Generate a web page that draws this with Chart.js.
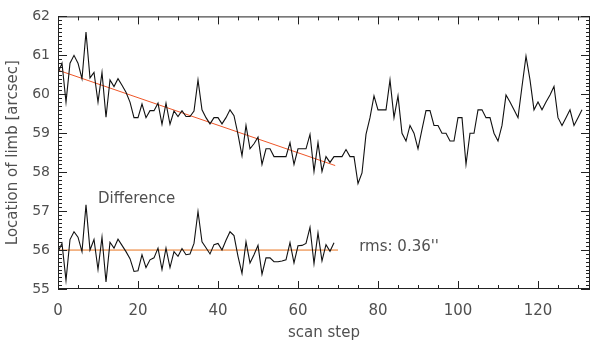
<!DOCTYPE html>
<html>
<head>
<meta charset="utf-8">
<script src="https://cdn.jsdelivr.net/npm/chart.js@4"></script>
<style>
  html, body { margin: 0; padding: 0; background: #fff; }
  #wrap { width: 600px; height: 342px; }
</style>
</head>
<body>
<div id="wrap"><canvas id="limbChart" width="600" height="342"></canvas></div>
<script>
// limb position per scan step (arcsec)
const limbPos = [
  60.55, 60.8, 59.8, 60.8, 61.0, 60.8, 60.4, 61.6, 60.42, 60.56,
  59.8, 60.56, 59.41, 60.37, 60.2, 60.4, 60.23, 60.05, 59.8, 59.4,
  59.4, 59.75, 59.4, 59.58, 59.58, 59.77, 59.23, 59.77, 59.23, 59.57,
  59.43, 59.58, 59.43, 59.43, 59.57, 60.37, 59.6, 59.4, 59.24, 59.4,
  59.4, 59.24, 59.4, 59.6, 59.45, 58.97, 58.42, 59.2, 58.6, 58.73,
  58.9, 58.2, 58.6, 58.6, 58.4, 58.4, 58.4, 58.4, 58.76, 58.2,
  58.6, 58.6, 58.6, 58.97, 58.02, 58.76, 58.02, 58.4, 58.25, 58.4,
  58.4, 58.4, 58.58, 58.4, 58.4, 57.71, 57.98, 58.97, 59.4, 59.96,
  59.6, 59.6, 59.6, 60.37, 59.4, 59.96, 59.0, 58.8, 59.2, 59.0,
  58.6, 59.1, 59.58, 59.58, 59.2, 59.2, 59.0, 59.0, 58.8, 58.8,
  59.4, 59.4, 58.2, 59.0, 59.0, 59.6, 59.6, 59.4, 59.4, 59.0,
  58.8, 59.2, 59.98, 59.8, 59.6, 59.4, 60.2, 60.98, 60.37, 59.6,
  59.8, 59.6, 59.8, 59.98, 60.2, 59.4, 59.2, 59.4, 59.6, 59.2,
  59.4, 59.6
];

// residuals after removing the linear fit, shifted to 56
const diffPos = [
  55.96, 56.17, 55.22, 56.27, 56.47, 56.33, 55.96, 57.16, 56.0, 56.27,
  55.5, 56.33, 55.18, 56.2, 56.05, 56.28, 56.12, 55.96, 55.78, 55.45,
  55.47, 55.88, 55.55, 55.75, 55.8, 56.05, 55.5, 56.05, 55.55, 55.96,
  55.84, 56.04, 55.88, 55.9, 56.17, 56.99, 56.21, 56.06, 55.9, 56.14,
  56.17, 56.0, 56.25, 56.47, 56.37, 55.84, 55.4, 56.21, 55.67, 55.88,
  56.12, 55.38, 55.8, 55.8, 55.7, 55.7, 55.72, 55.75, 56.19, 55.67,
  56.11, 56.12, 56.17, 56.58, 55.65, 56.44, 55.72, 56.14, 55.97, 56.19
];

// linear fit endpoints
const fitX = [0, 69.3];
const fitY = [60.62, 58.17];

// zero level of the difference curve
const refX = [0, 70];
const refY = [56.0, 56.0];

const xTicks = [0, 20, 40, 60, 80, 100, 120];
const yTicks = [55, 56, 57, 58, 59, 60, 61, 62];

const diffLabel = 'Difference';
const rmsLabel = "rms: 0.36''";

const pts = (xs, ys) => ys.map((v, i) => ({ x: xs[i], y: v }));
const steps = limbPos.map((v, i) => i);

const fontFamily = '"DejaVu Sans", sans-serif';
const textColor = '#505050';

// IDL style frame with inward ticks plus the two labels
const framePlugin = {
  id: 'frame',
  afterDraw(chart) {
    const { ctx, chartArea: a, scales: { x, y } } = chart;
    ctx.save();
    ctx.strokeStyle = '#222';
    ctx.lineWidth = 1;
    ctx.strokeRect(a.left + 0.5, a.top + 0.5, a.right - a.left - 1, a.bottom - a.top - 1);
    ctx.beginPath();
    for (let v = 0; v <= x.max; v += 5) {
      const px = Math.round(x.getPixelForValue(v)) + 0.5;
      const len = v % 20 === 0 ? 8 : 4;
      ctx.moveTo(px, a.bottom); ctx.lineTo(px, a.bottom - len);
      ctx.moveTo(px, a.top); ctx.lineTo(px, a.top + len);
    }
    for (let k = 0; k <= 70; k++) {
      const v = y.min + k / 10;
      const py = Math.round(y.getPixelForValue(v)) + 0.5;
      const len = k % 10 === 0 ? 9 : 4;
      ctx.moveTo(a.left, py); ctx.lineTo(a.left + len, py);
      ctx.moveTo(a.right, py); ctx.lineTo(a.right - len, py);
    }
    ctx.stroke();

    ctx.fillStyle = textColor;
    ctx.font = '15px ' + fontFamily;
    ctx.textBaseline = 'middle';
    ctx.textAlign = 'left';
    ctx.fillText(diffLabel, x.getPixelForValue(10), y.getPixelForValue(57.3));
    ctx.fillText(rmsLabel, x.getPixelForValue(75.3), y.getPixelForValue(56.08));
    ctx.restore();
  }
};

new Chart(document.getElementById('limbChart').getContext('2d'), {
  type: 'line',
  data: {
    datasets: [
      {
        data: pts(steps, limbPos),
        borderColor: '#111',
        borderWidth: 1.1,
        pointRadius: 0,
        tension: 0
      },
      {
        data: pts(steps, diffPos),
        borderColor: '#111',
        borderWidth: 1.1,
        pointRadius: 0,
        tension: 0
      },
      {
        data: pts(fitX, fitY),
        borderColor: '#ee5628',
        borderWidth: 1,
        pointRadius: 0
      },
      {
        data: pts(refX, refY),
        borderColor: '#e8731e',
        borderWidth: 1,
        pointRadius: 0
      }
    ]
  },
  options: {
    responsive: false,
    animation: false,
    layout: { padding: { top: 6, right: 10, left: 0, bottom: 0 } },
    plugins: {
      legend: { display: false },
      tooltip: { enabled: false }
    },
    scales: {
      x: {
        type: 'linear',
        min: 0,
        max: 133,
        grid: { display: false, drawTicks: false },
        border: { display: false },
        afterBuildTicks: s => { s.ticks = xTicks.map(v => ({ value: v })); },
        afterFit: s => { s.height = 53; },
        ticks: {
          color: textColor,
          padding: 13,
          maxRotation: 0,
          autoSkip: false,
          font: { family: fontFamily, size: 15 }
        },
        title: {
          display: true,
          text: 'scan step',
          color: textColor,
          padding: { top: 0, bottom: 0 },
          font: { family: fontFamily, size: 15 }
        }
      },
      y: {
        min: 55,
        max: 62,
        grid: { display: false, drawTicks: false },
        border: { display: false },
        afterBuildTicks: s => { s.ticks = yTicks.map(v => ({ value: v })); },
        afterFit: s => { s.width = 58; },
        ticks: {
          color: textColor,
          padding: 8,
          autoSkip: false,
          font: { family: fontFamily, size: 14 }
        },
        title: {
          display: true,
          text: 'Location of limb [arcsec]',
          color: textColor,
          padding: { top: 4, bottom: 0 },
          font: { family: fontFamily, size: 15 }
        }
      }
    }
  },
  plugins: [framePlugin]
});
</script>
</body>
</html>
